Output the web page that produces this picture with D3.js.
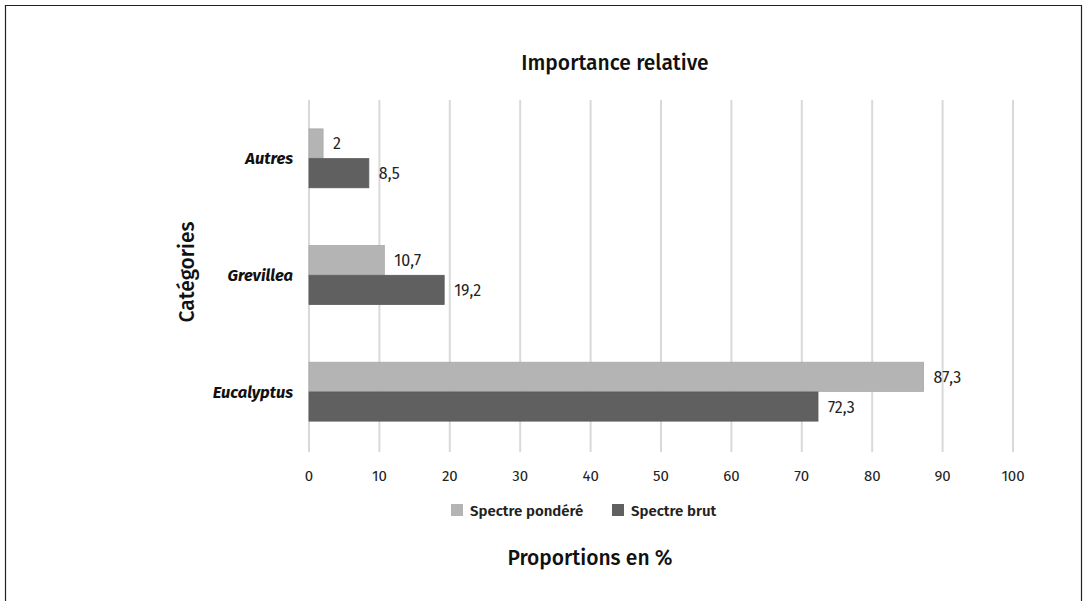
<!DOCTYPE html>
<html>
<head>
<meta charset="utf-8">
<script src="https://cdn.jsdelivr.net/npm/d3@7"></script>
<style>
  body { margin: 0; background: #fff; }
  svg { font-family: "Fira Sans", "Noto Sans", "Open Sans", sans-serif; }
</style>
</head>
<body>
<div id="graph"></div>
<script>
const categories = ["Autres", "Grevillea", "Eucalyptus"];
const seriesNames = ["Spectre pondéré", "Spectre brut"];
const ponderes = [2, 10.7, 87.3];
const bruts = [8.5, 19.2, 72.3];
const ticks = [0, 10, 20, 30, 40, 50, 60, 70, 80, 90, 100];
const colors = ["#b4b4b4", "#606060"];

const w = 1085, h = 601;
const margin = { top: 100, right: 72, bottom: 151, left: 309 };

const svg = d3.select("#graph").append("svg").attr("width", w).attr("height", h);

// frame
svg.append("path")
  .attr("d", `M5.5,${h} V5.5 H1081.5 V${h}`)
  .attr("fill", "none").attr("stroke", "#222").attr("stroke-width", 1.2);

const x = d3.scaleLinear().domain([0, 100]).range([margin.left, w - margin.right]);
const y = d3.scaleBand().domain(categories).range([margin.top, h - margin.bottom]).paddingInner(0.485).paddingOuter(0.2425);
const sub = d3.scaleBand().domain(seriesNames).range([0, y.bandwidth()]).padding(0.02);

// grid
svg.append("g").selectAll("line").data(ticks).enter().append("line")
  .attr("x1", (d) => x(d)).attr("x2", (d) => x(d))
  .attr("y1", margin.top).attr("y2", h - margin.bottom + 2)
  .attr("stroke", "#d9d9d9").attr("stroke-width", 2);

// tick labels
svg.append("g").selectAll("text").data(ticks).enter().append("text")
  .attr("x", (d) => x(d)).attr("y", 481)
  .attr("text-anchor", "middle").attr("font-size", 15).attr("fill", "#222")
  .text((d) => d);

const rows = categories.map((c, i) => ({ cat: c, vals: [ponderes[i], bruts[i]] }));
const g = svg.append("g").selectAll("g").data(rows).enter().append("g")
  .attr("transform", (d) => `translate(0,${y(d.cat)})`);

g.selectAll("rect").data((d) => d.vals.map((v, j) => ({ v, s: seriesNames[j], j }))).enter().append("rect")
  .attr("x", x(0)).attr("y", (d) => sub(d.s))
  .attr("width", (d) => x(d.v) - x(0)).attr("height", sub.bandwidth())
  .attr("fill", (d) => colors[d.j])
  .attr("stroke", (d) => d3.color(colors[d.j]).darker(0.2)).attr("stroke-width", 0.8);

g.selectAll("text.val").data((d) => d.vals.map((v, j) => ({ v, s: seriesNames[j] }))).enter().append("text")
  .attr("class", "val")
  .attr("x", (d) => x(d.v) + 10).attr("y", (d) => sub(d.s) + sub.bandwidth() / 2 + 6)
  .attr("font-size", 16).attr("fill", "#222")
  .text((d) => String(d.v).replace(".", ","));

// category labels
svg.append("g").selectAll("text").data(categories).enter().append("text")
  .attr("x", 293).attr("y", (d) => y(d) + y.bandwidth() / 2 + 6)
  .attr("text-anchor", "end").attr("font-size", 16.5)
  .attr("font-weight", "bold").attr("font-style", "italic").attr("fill", "#111")
  .text((d) => d);

// titles
svg.append("text").attr("x", 615).attr("y", 70).attr("text-anchor", "middle")
  .attr("font-size", 21).attr("font-weight", 500).attr("fill", "#111").text("Importance relative");
svg.append("text").attr("x", 590).attr("y", 565).attr("text-anchor", "middle")
  .attr("font-size", 21).attr("font-weight", 500).attr("fill", "#111").text("Proportions en %");
svg.append("text").attr("transform", "translate(194,272) rotate(-90)").attr("text-anchor", "middle")
  .attr("font-size", 21).attr("font-weight", 500).attr("fill", "#111").text("Catégories");

// legend
const legendX = [451, 612];
const lg = svg.append("g").selectAll("g").data(seriesNames).enter().append("g")
  .attr("transform", (d, i) => `translate(${legendX[i]},504)`);
lg.append("rect").attr("width", 12).attr("height", 12).attr("fill", (d, i) => colors[i]);
lg.append("text").attr("x", 19).attr("y", 12).attr("font-size", 15).attr("font-weight", 600)
  .attr("fill", "#222").text((d) => d);
</script>
</body>
</html>
